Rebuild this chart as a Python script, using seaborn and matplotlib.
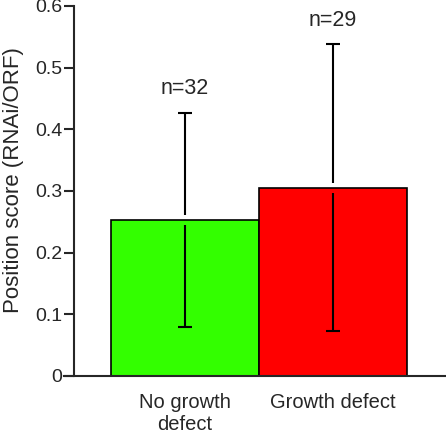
import numpy as np
import pandas as pd
import matplotlib
matplotlib.use("Agg")
import matplotlib.pyplot as plt
import seaborn as sns

# data
groups = ["No growth\ndefect", "Growth defect"]
means = [0.253, 0.305]
err_low = [0.079, 0.073]
err_high = [0.427, 0.538]
counts = ["n=32", "n=29"]
colors = ["#33ff00", "#ff0000"]

sns.set_style("ticks")
plt.rcParams["font.family"] = ["Liberation Sans", "DejaVu Sans"]

df = pd.DataFrame({"group": groups, "score": means})

fig = plt.figure(figsize=(4.46, 4.34), dpi=100)
ax = fig.add_axes([64 / 446, 58 / 434, 382 / 446, 370 / 434])

sns.barplot(data=df, x="group", y="score", hue="group", palette=colors,
            saturation=1, width=1.0, edgecolor="black", linewidth=1.2,
            legend=False, ax=ax)

# error bars, broken just around the top of each bar like the original
gap = 0.008
xs = np.arange(len(groups))
for x, m, lo, hi, txt in zip(xs, means, err_low, err_high, counts):
    ax.vlines(x, lo, m - gap, color="black", lw=1.5)
    ax.vlines(x, m + gap, hi, color="black", lw=1.5)
    ax.hlines([lo, hi], x - 0.045, x + 0.045, color="black", lw=1.5)
    ax.text(x, hi + 0.022, txt, ha="center", va="bottom", fontsize=15.5)

ax.set_xlim(-0.818, 1.764)
ax.set_ylim(0, 0.6)
ax.set_yticks([0, 0.1, 0.2, 0.3, 0.4, 0.5, 0.6])
ax.set_yticklabels(["0", "0.1", "0.2", "0.3", "0.4", "0.5", "0.6"])
ax.spines["left"].set_position(("data", -0.75))
ax.spines["top"].set_visible(False)
ax.spines["right"].set_visible(False)
for s in ["left", "bottom"]:
    ax.spines[s].set_linewidth(1.5)
ax.tick_params(axis="y", length=7, width=1.5, pad=1.5, labelsize=14)
ax.tick_params(axis="x", length=0, pad=12, labelsize=14.5)
ax.set_xlabel("")
ax.set_ylabel("Position score (RNAi/ORF)", fontsize=16, labelpad=8, y=0.53)

fig.savefig("out.png", dpi=100)
